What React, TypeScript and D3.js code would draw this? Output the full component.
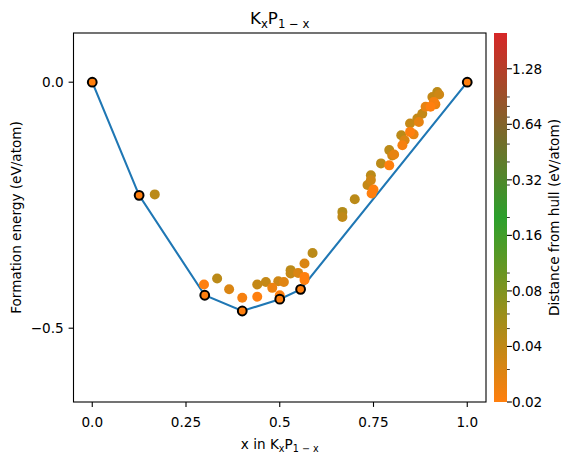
import React from "react";
import * as d3 from "d3";

// Convex hull (stable) phases
const hullX = [0, 0.125, 0.3, 0.4, 0.5, 0.5556, 1];
const hullE = [0, -0.23, -0.433, -0.465, -0.441, -0.421, 0];

// Unstable phases: composition, formation energy, distance from hull
const ptX = [0.1667, 0.298, 0.333, 0.365, 0.4, 0.44, 0.44, 0.463, 0.48, 0.496, 0.511, 0.5, 0.529, 0.529, 0.549, 0.566, 0.566, 0.566, 0.5875, 0.667, 0.667, 0.7, 0.743, 0.734, 0.743, 0.745, 0.75, 0.77, 0.792, 0.792, 0.8, 0.805, 0.827, 0.824, 0.833, 0.8475, 0.8475, 0.857, 0.867, 0.871, 0.88, 0.889, 0.902, 0.911, 0.907, 0.92, 0.915, 0.925];
const ptE = [-0.228, -0.411, -0.399, -0.421, -0.438, -0.411, -0.436, -0.406, -0.418, -0.4045, -0.406, -0.433, -0.382, -0.389, -0.3876, -0.3685, -0.3957, -0.402, -0.347, -0.2636, -0.2738, -0.238, -0.189, -0.209, -0.199, -0.226, -0.218, -0.165, -0.169, -0.138, -0.149, -0.147, -0.128, -0.108, -0.118, -0.101, -0.084, -0.106, -0.074, -0.081, -0.064, -0.05, -0.05, -0.04, -0.03, -0.02, -0.045, -0.025];
const ptD = [0.042, 0.018, 0.042, 0.03, 0.022, 0.038, 0.018, 0.038, 0.024, 0.034, 0.028, 0.01, 0.042, 0.038, 0.03, 0.03, 0.015, 0.012, 0.042, 0.046, 0.04, 0.042, 0.042, 0.038, 0.034, 0.012, 0.018, 0.042, 0.018, 0.042, 0.034, 0.026, 0.022, 0.042, 0.03, 0.018, 0.038, 0.026, 0.038, 0.026, 0.038, 0.026, 0.018, 0.022, 0.038, 0.042, 0.026, 0.034];

const xTicks = [0, 0.25, 0.5, 0.75, 1.0];
const xTickLabels = ["0.0", "0.25", "0.5", "0.75", "1.0"];
const yTicks = [0, -0.5];
const yTickLabels = ["0.0", "\u22120.5"];
const cbTicks = [0.02, 0.04, 0.08, 0.16, 0.32, 0.64, 1.28];
const cbMinor = [0.03, 0.05, 0.06, 0.07, 0.09, 0.1, 0.2, 0.3, 0.4, 0.5, 0.6, 0.7, 0.8, 0.9];
const cmapColors = ["#ff7f0e", "#2ca02c", "#d62728"];

const FONT = "DejaVu Sans, sans-serif";
const FS = 13.6;

export default function App() {
  const L = 73.5, R = 486, T = 33, B = 402;
  const x = d3.scaleLinear().domain([-0.05, 1.05]).range([L, R]);
  const y = d3.scaleLinear().domain([-0.65, 0.1]).range([B, T]);
  const cbL = 494, cbR = 507;
  const cy = d3.scaleLog().domain([0.02, 2]).range([B, T]);
  const interp = d3.piecewise(d3.interpolateRgb, cmapColors);
  const col = (v: number) => {
    if (v <= 0.02) return interp(0);
    const t = (Math.log(v) - Math.log(0.02)) / (Math.log(2) - Math.log(0.02));
    return interp(Math.max(0, Math.min(1, t)));
  };
  const line = d3.line<number>().x((_, i) => x(hullX[i])).y((_, i) => y(hullE[i]));
  const idx = d3.range(ptX.length).sort((a, b) => ptD[b] - ptD[a]);
  const stops = d3.range(0, 1.0001, 0.05);

  return (
    <svg width={571} height={459} style={{ position: "absolute", left: 0, top: 0 }} fontFamily={FONT}>
      <defs>
        <linearGradient id="cb" x1="0" y1="1" x2="0" y2="0">
          {stops.map((s, i) => (
            <stop key={i} offset={s} stopColor={interp(s)} />
          ))}
        </linearGradient>
      </defs>
      <rect x={0} y={0} width={571} height={459} fill="white" />
      {/* title */}
      <text x={(L + R) / 2} y={24} textAnchor="middle" fontSize={16.7}>
        K<tspan fontSize={11.7} dy={3.5}>x</tspan>
        <tspan dy={-3.5}>P</tspan>
        <tspan fontSize={11.7} dy={3.5}>1 − x</tspan>
      </text>
      {/* hull line */}
      <path d={line(hullX) || ""} fill="none" stroke="#1f77b4" strokeWidth={2.1} />
      {/* unstable points */}
      {idx.map((i) => (
        <circle key={i} cx={x(ptX[i])} cy={y(ptE[i])} r={5} fill={col(ptD[i])} />
      ))}
      {/* hull points */}
      {hullX.map((v, i) => (
        <circle key={"h" + i} cx={x(v)} cy={y(hullE[i])} r={4.4} fill={col(0)} stroke="black" strokeWidth={2} />
      ))}
      {/* axes frame */}
      <rect x={L} y={T} width={R - L} height={B - T} fill="none" stroke="black" strokeWidth={1.1} />
      {xTicks.map((v, i) => (
        <g key={"xt" + i}>
          <line x1={x(v)} x2={x(v)} y1={B} y2={B + 4.9} stroke="black" strokeWidth={1.1} />
          <text x={x(v)} y={B + 24.5} textAnchor="middle" fontSize={FS}>{xTickLabels[i]}</text>
        </g>
      ))}
      {yTicks.map((v, i) => (
        <g key={"yt" + i}>
          <line x1={L - 4.9} x2={L} y1={y(v)} y2={y(v)} stroke="black" strokeWidth={1.1} />
          <text x={L - 9.8} y={y(v) + 5} textAnchor="end" fontSize={FS}>{yTickLabels[i]}</text>
        </g>
      ))}
      <text x={(L + R) / 2} y={449} textAnchor="middle" fontSize={FS}>
        x in K<tspan fontSize={9.6} dy={3}>x</tspan>
        <tspan dy={-3}>P</tspan>
        <tspan fontSize={9.6} dy={3}>1 − x</tspan>
      </text>
      <text transform={`translate(21,${(T + B) / 2}) rotate(-90)`} textAnchor="middle" fontSize={FS}>
        Formation energy (eV/atom)
      </text>
      {/* colorbar */}
      <rect x={cbL} y={T} width={cbR - cbL} height={B - T} fill="url(#cb)" />
      {cbMinor.map((v, i) => (
        <line key={"cm" + i} x1={cbR} x2={cbR + 2.8} y1={cy(v)} y2={cy(v)} stroke="black" strokeWidth={0.8} />
      ))}
      {cbTicks.map((v, i) => (
        <g key={"ct" + i}>
          <line x1={cbR} x2={cbR + 4.9} y1={cy(v)} y2={cy(v)} stroke="black" strokeWidth={1.1} />
          <text x={cbR + 5} y={cy(v) + 5} fontSize={FS}>{String(v)}</text>
        </g>
      ))}
      <text transform={`translate(559,${(T + B) / 2}) rotate(-90)`} textAnchor="middle" fontSize={FS}>
        Distance from hull (eV/atom)
      </text>
    </svg>
  );
}
